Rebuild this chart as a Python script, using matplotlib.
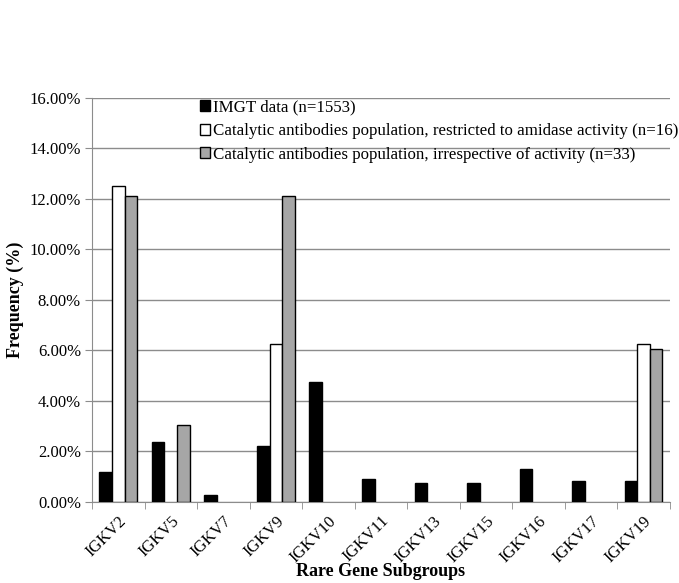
import numpy as np
import matplotlib.pyplot as plt
from matplotlib.ticker import FuncFormatter

plt.rcParams['font.family'] = ['Liberation Serif', 'DejaVu Serif']

genes = ['IGKV2', 'IGKV5', 'IGKV7', 'IGKV9', 'IGKV10', 'IGKV11', 'IGKV13',
         'IGKV15', 'IGKV16', 'IGKV17', 'IGKV19']
imgt = [1.17, 2.39, 0.26, 2.2, 4.76, 0.9, 0.77, 0.77, 1.29, 0.84, 0.84]
amidase = [12.5, 0, 0, 6.25, 0, 0, 0, 0, 0, 0, 6.25]
irrespective = [12.12, 3.03, 0, 12.12, 0, 0, 0, 0, 0, 0, 6.06]

labels = ['IMGT data (n=1553)',
          'Catalytic antibodies population, restricted to amidase activity (n=16)',
          'Catalytic antibodies population, irrespective of activity (n=33)']

fig = plt.figure(figsize=(6.79, 5.83), dpi=100)
ax = fig.add_axes([0.1355, 0.139, 0.851, 0.693])

x = np.arange(len(genes))
w = 0.24
# empty bars are not drawn at all
def nz(v):
    v = np.array(v, dtype=float)
    return np.where(v > 0, v, np.nan)

ax.bar(x - w, nz(imgt), w, color='black', edgecolor='black', linewidth=1, label=labels[0], zorder=3)
ax.bar(x, nz(amidase), w, color='white', edgecolor='black', linewidth=1, label=labels[1], zorder=3)
ax.bar(x + w, nz(irrespective), w, color='#a6a6a6', edgecolor='black', linewidth=1, label=labels[2], zorder=3)

ax.set_xlim(-0.5, len(genes) - 0.5)
ax.set_ylim(0, 16)
ax.set_yticks(np.arange(0, 16.1, 2))
ax.yaxis.set_major_formatter(FuncFormatter(lambda v, p: '%.2f%%' % v))
ax.grid(axis='y', color='#8c8c8c', linewidth=1, zorder=0)

ax.set_xticks(x)
ax.set_xticklabels(genes, rotation=45, ha='right', rotation_mode='anchor', fontsize=12)
ax.set_xticks(np.arange(-0.5, len(genes), 1), minor=True)
ax.tick_params(axis='x', which='major', length=0, pad=8)
ax.tick_params(axis='x', which='minor', length=5, color='#8c8c8c')
ax.tick_params(axis='y', length=5, color='#8c8c8c', labelsize=12, pad=3)

for s in ['top', 'right']:
    ax.spines[s].set_visible(False)
ax.spines['left'].set_color('#8c8c8c')
ax.spines['bottom'].set_color('#8c8c8c')

ax.set_ylabel('Frequency (%)', fontsize=13, fontweight='bold', labelpad=4)
ax.set_xlabel('Rare Gene Subgroups', fontsize=13, fontweight='bold', labelpad=-2)

ax.legend(loc='upper left', bbox_to_anchor=(0.175, 1.013), frameon=False, fontsize=12.2,
          handlelength=0.6, handleheight=0.6, handletextpad=0.2, labelspacing=0.45,
          borderaxespad=0)

fig.savefig('out.png', dpi=100)
